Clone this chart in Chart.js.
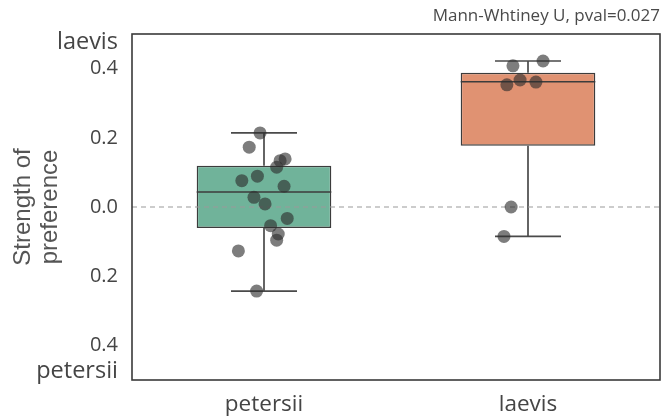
<!DOCTYPE html>
<html>
<head>
<meta charset="utf-8">
<script src="https://cdn.jsdelivr.net/npm/chart.js@4.4.1/dist/chart.umd.min.js"></script>
<style>
  html, body { margin: 0; padding: 0; background: #ffffff; }
  #wrap { width: 662px; height: 417px; }
</style>
</head>
<body>
<div id="wrap"><canvas id="chart" width="662" height="417"></canvas></div>
<script>
// Groups along the x axis
const categories = ['petersii', 'laevis'];

// Box summaries per group
const q1 = [-0.061, 0.177];
const median = [0.0435, 0.362];
const q3 = [0.119, 0.388];
const whiskerLow = [-0.243, -0.085];
const whiskerHigh = [0.214, 0.422];

// Individual observations (strip plot) and their horizontal jitter
const petersiiValues = [0.214, 0.173, 0.139, 0.134, 0.115, 0.089, 0.076, 0.060,
                        0.028, 0.009, -0.033, -0.054, -0.078, -0.096, -0.127, -0.243];
const petersiiJitter = [-0.015, -0.056, 0.080, 0.061, 0.048, -0.025, -0.084, 0.076,
                        -0.038, 0.004, 0.088, 0.025, 0.054, 0.048, -0.097, -0.028];
const laevisValues = [0.422, 0.408, 0.353, 0.367, 0.361, 0.0, -0.085];
const laevisJitter = [0.057, -0.057, -0.080, -0.030, 0.030, -0.064, -0.091];

// Y tick values and the labels shown for them
const yTickValues = [-0.475, -0.4, -0.2, 0.0, 0.2, 0.4, 0.475];
const yTickLabels = ['petersii', '0.4', '0.2', '0.0', '0.2', '0.4', 'laevis'];

const titleText = 'Mann-Whtiney U, pval=0.027';
const yTitle = ['Strength of', 'preference'];

const boxFill = ['#70b39a', '#e09272'];
const edge = '#3c3c3c';
const BOX_HALF = 0.255;
const CAP_HALF = 0.125;

// line segments: median bars, whiskers, caps (null entries break the path)
const medianPts = [], whiskerPts = [], capPts = [];
categories.forEach((c, i) => {
  medianPts.push({x: i - BOX_HALF, y: median[i]}, {x: i + BOX_HALF, y: median[i]}, {x: i, y: null});
  whiskerPts.push({x: i, y: q3[i]}, {x: i, y: whiskerHigh[i]}, {x: i, y: null},
                  {x: i, y: q1[i]}, {x: i, y: whiskerLow[i]}, {x: i, y: null});
  capPts.push({x: i - CAP_HALF, y: whiskerHigh[i]}, {x: i + CAP_HALF, y: whiskerHigh[i]}, {x: i, y: null},
              {x: i - CAP_HALF, y: whiskerLow[i]}, {x: i + CAP_HALF, y: whiskerLow[i]}, {x: i, y: null});
});

const stripPts = petersiiValues.map((v, k) => ({x: 0 + petersiiJitter[k], y: v}))
  .concat(laevisValues.map((v, k) => ({x: 1 + laevisJitter[k], y: v})));

const lineBase = {type: 'line', pointRadius: 0, spanGaps: false, tension: 0, fill: false};

const framePlugin = {
  id: 'frame',
  afterDatasetsDraw(chart) {
    const {ctx, chartArea: a} = chart;
    ctx.save();
    ctx.strokeStyle = '#3a3a3a';
    ctx.lineWidth = 1.6;
    ctx.strokeRect(a.left, a.top, a.right - a.left, a.bottom - a.top);
    ctx.restore();
  }
};

new Chart(document.getElementById('chart'), {
  type: 'bar',
  data: {
    datasets: [
      {
        type: 'scatter',
        data: stripPts,
        backgroundColor: 'rgba(45,45,45,0.62)',
        borderWidth: 0,
        pointRadius: 6.5,
        order: 0
      },
      Object.assign({}, lineBase, {
        data: [{x: -0.5, y: 0}, {x: 1.5, y: 0}],
        borderColor: '#9a9a9a', borderWidth: 1.2, borderDash: [5, 4], order: 1
      }),
      Object.assign({}, lineBase, {data: medianPts, borderColor: edge, borderWidth: 1.6, order: 2}),
      Object.assign({}, lineBase, {data: whiskerPts, borderColor: '#4a4a4a', borderWidth: 1.7, order: 3}),
      Object.assign({}, lineBase, {data: capPts, borderColor: '#4a4a4a', borderWidth: 1.7, order: 3}),
      {
        type: 'bar',
        data: categories.map((c, i) => ({x: i, y: [q1[i], q3[i]]})),
        backgroundColor: boxFill,
        borderColor: edge,
        borderWidth: 1.5,
        borderSkipped: false,
        categoryPercentage: 1.0,
        barPercentage: 0.51,
        order: 4
      }
    ]
  },
  options: {
    responsive: false,
    animation: false,
    events: [],
    layout: {autoPadding: false, padding: {left: 0, right: 2, top: 0, bottom: 0}},
    plugins: {
      legend: {display: false},
      tooltip: {enabled: false},
      title: {
        display: true,
        text: titleText,
        align: 'end',
        color: '#4a4a4a',
        font: {family: 'Open Sans', size: 17, weight: 'normal', lineHeight: 1.2},
        padding: {top: 6, bottom: 7.6}
      }
    },
    scales: {
      x: {
        type: 'linear',
        min: -0.5,
        max: 1.5,
        offset: false,
        bounds: 'ticks',
        grid: {display: false, drawTicks: false, offset: false},
        border: {display: false},
        afterBuildTicks(axis) { axis.ticks = categories.map((c, i) => ({value: i})); },
        afterFit(axis) { axis.height = 37; axis.paddingLeft = 0; axis.paddingRight = 0; },
        ticks: {
          callback: (v) => categories[v],
          color: '#454545',
          font: {family: 'Open Sans', size: 22.5},
          padding: 11,
          maxRotation: 0
        }
      },
      y: {
        type: 'linear',
        min: -0.5,
        max: 0.5,
        grid: {display: false, drawTicks: false},
        border: {display: false},
        afterBuildTicks(axis) { axis.ticks = yTickValues.map(v => ({value: v})); },
        afterFit(axis) { axis.width = 132; axis.paddingTop = 0; axis.paddingBottom = 0; },
        ticks: {
          callback: (v, idx) => yTickLabels[idx],
          color: '#454545',
          font: (ctx) => ({
            family: 'Open Sans',
            size: (ctx.index === 0 || ctx.index === yTickValues.length - 1) ? 23.5 : 20
          }),
          padding: 14
        },
        title: {
          display: true,
          text: yTitle,
          color: '#555555',
          font: {family: 'Liberation Sans', size: 24, lineHeight: 1.1},
          padding: {top: 10.5, bottom: 0}
        }
      }
    }
  },
  plugins: [framePlugin]
});
</script>
</body>
</html>
